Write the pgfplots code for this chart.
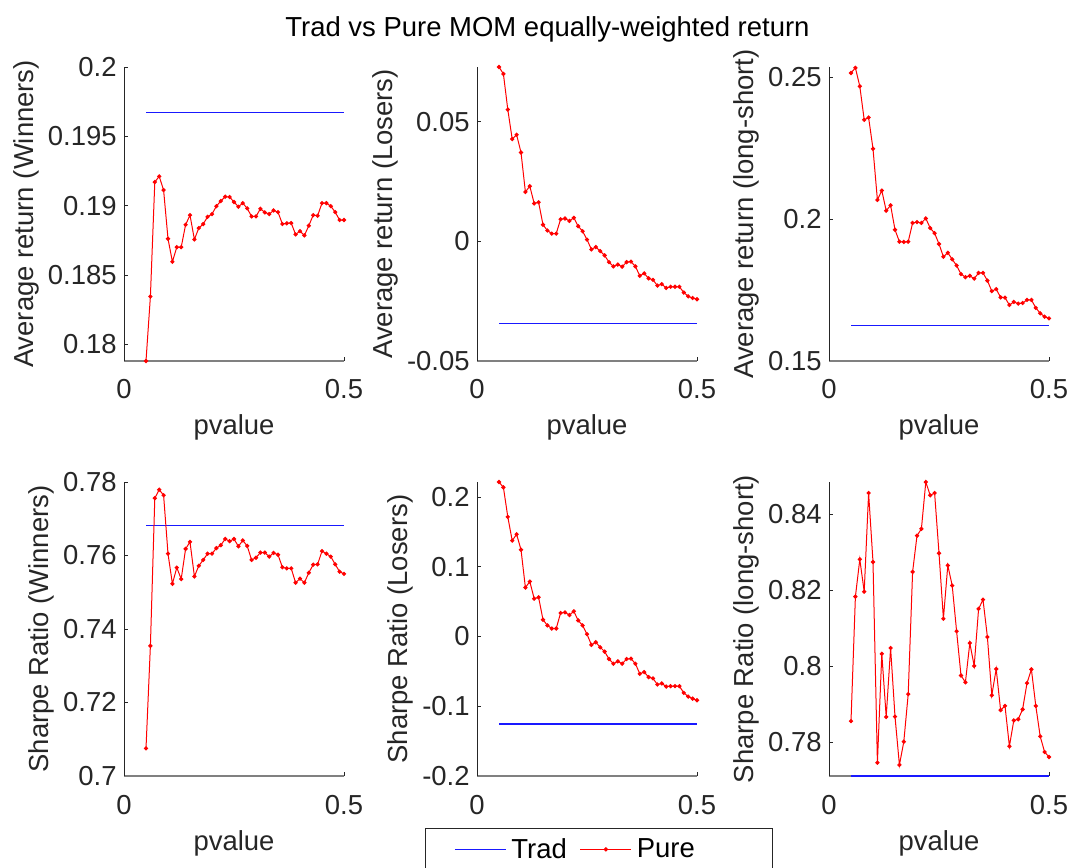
\documentclass[border=0pt]{standalone}
\usepackage{fontspec}
\setmainfont{Liberation Sans}
\usepackage{pgfplots}
\usepackage{pgfplotstable}
\pgfplotsset{compat=1.18}
\definecolor{axgray}{rgb}{0.15,0.15,0.15}
\definecolor{mblue}{rgb}{0.1,0.1,1}
\definecolor{mred}{rgb}{1,0,0}

\pgfplotstableread{
p w l ls sw sl sls
0.05 0.17879 0.0728 0.2514 0.7075 0.2216 0.7856
0.06 0.18344 0.0699 0.2532 0.7354 0.2139 0.8183
0.07 0.19170 0.0550 0.2467 0.7756 0.1716 0.8281
0.08 0.19211 0.0427 0.2349 0.7779 0.1375 0.8196
0.09 0.19112 0.0445 0.2357 0.7764 0.1466 0.8455
0.10 0.18761 0.0371 0.2247 0.7605 0.1245 0.8274
0.11 0.18595 0.0206 0.2067 0.7523 0.0702 0.7747
0.12 0.18700 0.0230 0.2100 0.7567 0.0788 0.8033
0.13 0.18700 0.0158 0.2029 0.7536 0.0543 0.7867
0.14 0.18862 0.0163 0.2048 0.7618 0.0562 0.8048
0.15 0.18931 0.0069 0.1962 0.7637 0.0241 0.7868
0.16 0.18756 0.0045 0.1920 0.7543 0.0159 0.7741
0.17 0.18838 0.0032 0.1919 0.7572 0.0115 0.7802
0.18 0.18867 0.0032 0.1920 0.7588 0.0115 0.7927
0.19 0.18919 0.0092 0.1986 0.7605 0.0337 0.8248
0.20 0.18939 0.0095 0.1989 0.7605 0.0346 0.8343
0.21 0.18996 0.0085 0.1986 0.7620 0.0308 0.8361
0.22 0.19033 0.0098 0.2002 0.7628 0.0361 0.8484
0.23 0.19064 0.0063 0.1968 0.7645 0.0231 0.8449
0.24 0.19062 0.0042 0.1950 0.7639 0.0159 0.8455
0.25 0.19026 0.0007 0.1912 0.7645 0.0034 0.8297
0.26 0.18992 -0.0034 0.1867 0.7625 -0.0120 0.8125
0.27 0.19018 -0.0024 0.1881 0.7641 -0.0082 0.8265
0.28 0.18980 -0.0041 0.1858 0.7626 -0.0154 0.8212
0.29 0.18922 -0.0059 0.1836 0.7588 -0.0216 0.8092
0.30 0.18922 -0.0087 0.1806 0.7594 -0.0322 0.7976
0.31 0.18977 -0.0105 0.1795 0.7608 -0.0390 0.7958
0.32 0.18951 -0.0097 0.1800 0.7608 -0.0356 0.8061
0.33 0.18939 -0.0106 0.1790 0.7597 -0.0390 0.8001
0.34 0.18965 -0.0087 0.1810 0.7607 -0.0322 0.8151
0.35 0.18953 -0.0085 0.1810 0.7602 -0.0317 0.8175
0.36 0.18867 -0.0105 0.1783 0.7568 -0.0390 0.8077
0.37 0.18872 -0.0144 0.1746 0.7565 -0.0534 0.7924
0.38 0.18874 -0.0134 0.1753 0.7565 -0.0510 0.7993
0.39 0.18792 -0.0155 0.1724 0.7526 -0.0582 0.7885
0.40 0.18816 -0.0161 0.1723 0.7537 -0.0601 0.7896
0.41 0.18785 -0.0185 0.1697 0.7526 -0.0688 0.7790
0.42 0.18855 -0.0179 0.1708 0.7553 -0.0673 0.7858
0.43 0.18931 -0.0195 0.1702 0.7575 -0.0717 0.7861
0.44 0.18927 -0.0190 0.1704 0.7576 -0.0712 0.7887
0.45 0.19018 -0.0190 0.1715 0.7612 -0.0712 0.7956
0.46 0.19018 -0.0190 0.1715 0.7605 -0.0712 0.7992
0.47 0.18996 -0.0214 0.1687 0.7597 -0.0808 0.7896
0.48 0.18953 -0.0230 0.1668 0.7576 -0.0861 0.7816
0.49 0.18896 -0.0237 0.1656 0.7556 -0.0890 0.7775
0.50 0.18896 -0.0242 0.1650 0.7550 -0.0914 0.7762
}\data

\pgfplotstableread{
p w l ls sw sl sls
0.05 0.1967 -0.0343 0.1625 0.7682 -0.1255 0.7712
0.50 0.1967 -0.0343 0.1625 0.7682 -0.1255 0.7712
}\trad

\newcommand{\fs}{\fontsize{20.6}{24}\selectfont}

\pgfplotsset{
  panel/.style={
    scale only axis, width=165pt, height=220.5pt,
    anchor=south west,
    xmin=0, xmax=0.5, xtick={0,0.5}, xticklabels={0,0.5},
    scaled ticks=false,
    axis x line*=bottom, axis y line*=left,
    tick align=inside, major tick length=3pt,
    tick style={axgray, line width=0.6pt},
    x axis line style={black!50, line width=1.2pt, -},
    y axis line style={axgray, line width=0.6pt, -},
    ticklabel style={font=\fs, text=axgray},
    label style={font=\fs, text=axgray},
    xticklabel style={anchor=base, yshift=-28.5pt},
    xlabel={pvalue},
    xlabel style={at={(axis description cs:0.5,0)}, anchor=base, yshift=-55.5pt},
    clip=false,
    every y tick label/.append style={xshift=-2pt},
  },
}

\begin{document}
\begin{tikzpicture}
\useasboundingbox (0pt,0pt) rectangle (802.5pt,650.25pt);

\node[anchor=base, font=\fs, text=black] at (410.6pt,622.7pt) {Trad vs Pure MOM equally-weighted return};

% Panel 1
\begin{axis}[panel, at={(93pt,379.5pt)},
  ymin=0.17879, ymax=0.2,
  ytick={0.18,0.185,0.19,0.195,0.2}, yticklabels={0.18,0.185,0.19,0.195,0.2},
  ylabel={Average return (Winners)}]
\addplot[draw=mblue, line width=1pt, mark=none] table[x=p,y=w] {\trad};
\addplot[draw=mred, line width=0.75pt, mark=*, mark size=1.2pt, mark options={solid, fill=mred, draw=mred}] table[x=p,y=w] {\data};
\end{axis}

% Panel 2
\begin{axis}[panel, at={(357.75pt,379.5pt)},
  ymin=-0.05, ymax=0.0728,
  ytick={-0.05,0,0.05}, yticklabels={-0.05,0,0.05},
  ylabel={Average return (Losers)}]
\addplot[draw=mblue, line width=1pt, mark=none] table[x=p,y=l] {\trad};
\addplot[draw=mred, line width=0.75pt, mark=*, mark size=1.2pt, mark options={solid, fill=mred, draw=mred}] table[x=p,y=l] {\data};
\end{axis}

% Panel 3
\begin{axis}[panel, at={(621.75pt,379.5pt)},
  ymin=0.15, ymax=0.2535,
  ytick={0.15,0.2,0.25}, yticklabels={0.15,0.2,0.25},
  ylabel={Average return (long-short)}]
\addplot[draw=mblue, line width=1pt, mark=none] table[x=p,y=ls] {\trad};
\addplot[draw=mred, line width=0.75pt, mark=*, mark size=1.2pt, mark options={solid, fill=mred, draw=mred}] table[x=p,y=ls] {\data};
\end{axis}

% Panel 4
\begin{axis}[panel, at={(93pt,68.25pt)},
  ymin=0.7, ymax=0.78,
  ytick={0.7,0.72,0.74,0.76,0.78}, yticklabels={0.7,0.72,0.74,0.76,0.78},
  ylabel={Sharpe Ratio (Winners)}]
\addplot[draw=mblue, line width=1pt, mark=none] table[x=p,y=sw] {\trad};
\addplot[draw=mred, line width=0.75pt, mark=*, mark size=1.2pt, mark options={solid, fill=mred, draw=mred}] table[x=p,y=sw] {\data};
\end{axis}

% Panel 5 (its x label is hidden behind the legend in the reference)
\begin{axis}[panel, at={(357.75pt,68.25pt)},
  xlabel={},
  ymin=-0.2, ymax=0.2216,
  ytick={-0.2,-0.1,0,0.1,0.2}, yticklabels={-0.2,-0.1,0,0.1,0.2},
  ylabel={Sharpe Ratio (Losers)},
  legend columns=2,
  legend image code/.code={\draw[mark repeat=2,mark phase=2,#1] plot coordinates {(0pt,0pt) (19.125pt,0pt) (38.25pt,0pt)};},
  legend style={at={(0.5523,-0.1769)}, anchor=north, draw=axgray, fill=white, line width=0.6pt,
    font=\fs, text=black, inner xsep=21.75pt, inner ysep=7.5pt,
    column sep=3.75pt,
    /tikz/every even column/.append style={column sep=9.75pt},
    nodes={inner sep=0pt}}]
\addplot[draw=mblue, line width=1pt, mark=none] table[x=p,y=sl] {\trad};
\addlegendentry{Trad}
\addplot[draw=mred, line width=0.75pt, mark=*, mark size=1.2pt, mark options={solid, fill=mred, draw=mred}] table[x=p,y=sl] {\data};
\addlegendentry{Pure\hspace*{36pt}}
\end{axis}

% Panel 6
\begin{axis}[panel, at={(621.75pt,68.25pt)},
  ymin=0.7712, ymax=0.8484,
  ytick={0.78,0.8,0.82,0.84}, yticklabels={0.78,0.8,0.82,0.84},
  ylabel={Sharpe Ratio (long-short)}]
\addplot[draw=mblue, line width=1pt, mark=none] table[x=p,y=sls] {\trad};
\addplot[draw=mred, line width=0.75pt, mark=*, mark size=1.2pt, mark options={solid, fill=mred, draw=mred}] table[x=p,y=sls] {\data};
\end{axis}
\end{tikzpicture}
\end{document}
